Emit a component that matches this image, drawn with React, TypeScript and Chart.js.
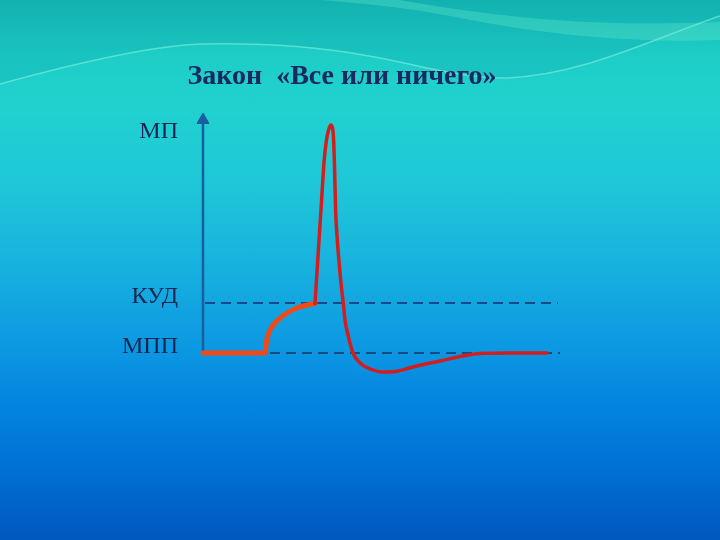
import React, { useEffect, useRef } from "react";
import { Chart, registerables } from "chart.js";

Chart.register(...registerables);

// ---- data (time in ms, membrane potential in mV) ----
const titleText = "Закон  «Все или ничего»";
const levelValues = [-70, -50, 16];
const levelLabels = ["МПП", "КУД", "МП"];

const axisTime = [0, 0];
const axisPotential = [-70, 23.2];

const stimTime = [0, 1.24, 1.274, 1.34, 1.5, 1.68, 1.88, 2.08, 2.24];
const stimPotential = [-70, -70, -64.8, -60.8, -56.8, -54, -52, -50.8, -50.2];

const spikeTime = [
  2.24, 2.304, 2.368, 2.424, 2.464, 2.506, 2.554, 2.59, 2.612, 2.632, 2.652,
  2.686, 2.726, 2.77, 2.806, 2.84, 2.9, 3.0, 3.14, 3.34, 3.6, 3.84, 4.2, 4.74,
  5.2, 5.54, 6.14, 6.88,
];
const spikePotential = [
  -50.2, -30, -10, 7.2, 14.4, 18.8, 21.2, 20, 15.2, 3.2, -12.8, -24.8, -34.8,
  -44, -50, -56.8, -62.8, -70, -74, -76.4, -77.6, -77.4, -75.6, -73.2, -71.2,
  -70.2, -70, -70,
];

const kudTime = [0.04, 7.1];
const kudPotential = [-50, -50];
const mppTime = [1.34, 7.14];
const mppPotential = [-70, -70];

const toXY = (xs: number[], ys: number[]) => xs.map((x, i) => ({ x, y: ys[i] }));

export default function App() {
  const ref = useRef<HTMLCanvasElement | null>(null);

  useEffect(() => {
    if (!ref.current) return;
    const chart = new Chart(ref.current, {
      type: "line",
      data: {
        datasets: [
          {
            label: "spike",
            data: toXY(spikeTime, spikePotential),
            borderColor: "#d21e1e",
            borderWidth: 3.5,
            pointRadius: 0,
            cubicInterpolationMode: "monotone",
            borderCapStyle: "round",
            borderJoinStyle: "round",
            fill: false,
            clip: false,
          },
          {
            label: "stimulus",
            data: toXY(stimTime, stimPotential),
            borderColor: "#f04a18",
            borderWidth: 5,
            pointRadius: 0,
            cubicInterpolationMode: "monotone",
            borderCapStyle: "round",
            borderJoinStyle: "round",
            fill: false,
            clip: false,
          },
          {
            label: "axis",
            data: toXY(axisTime, axisPotential),
            borderColor: "#1a5e9e",
            borderWidth: 2.5,
            pointRadius: [0, 7],
            pointStyle: "triangle",
            pointBackgroundColor: "#1a5e9e",
            pointBorderColor: "#1a5e9e",
            pointBorderWidth: 1,
            fill: false,
            clip: false,
          },
          {
            label: "КУД",
            data: toXY(kudTime, kudPotential),
            borderColor: "#1c4883",
            borderWidth: 2,
            borderDash: [10, 6],
            pointRadius: 0,
            fill: false,
            clip: false,
          },
          {
            label: "МПП",
            data: toXY(mppTime, mppPotential),
            borderColor: "#1c4883",
            borderWidth: 2,
            borderDash: [10, 6],
            pointRadius: 0,
            fill: false,
            clip: false,
          },
        ],
      },
      options: {
        animation: false,
        responsive: false,
        maintainAspectRatio: false,
        devicePixelRatio: 1,
        events: [],
        layout: { padding: { left: 81, right: 117, top: 0, bottom: 137 } },
        plugins: {
          legend: { display: false },
          tooltip: { enabled: false },
          title: {
            display: true,
            text: titleText,
            color: "#1c2860",
            font: {
              family: "'Liberation Serif', 'Times New Roman', serif",
              size: 28,
              weight: "bold",
              lineHeight: 1.2,
            },
            padding: { top: 60.2, bottom: 9.2 },
          },
        },
        scales: {
          x: {
            type: "linear",
            min: 0,
            max: 8,
            display: false,
          },
          y: {
            type: "linear",
            min: -90,
            max: 30,
            grid: { display: false, drawTicks: false },
            border: { display: false },
            afterFit: (scale: any) => {
              scale.width = 122;
            },
            afterBuildTicks: (scale: any) => {
              scale.ticks = levelValues.map((v) => ({ value: v }));
            },
            ticks: {
              padding: 25,
              labelOffset: -6,
              color: "#1a2550",
              font: {
                family: "'Liberation Serif', 'Times New Roman', serif",
                size: 24,
              },
              callback: (value: any) => {
                const i = levelValues.indexOf(Number(value));
                return i >= 0 ? levelLabels[i] : "";
              },
            },
          },
        },
      },
    });
    return () => chart.destroy();
  }, []);

  return (
    <div
      style={{
        position: "fixed",
        left: 0,
        top: 0,
        width: 720,
        height: 540,
        overflow: "hidden",
        background:
          "linear-gradient(180deg, #14b8b4 0%, #1dcdc6 10%, #20d2cf 20%, #1ec6d8 35%, #17b0df 50%, #0b97e2 65%, #0384e0 75%, #0070d4 87%, #0058be 100%)",
      }}
    >
      <svg
        width={720}
        height={540}
        style={{ position: "absolute", left: 0, top: 0 }}
      >
        <path
          d="M0,0 L720,0 L720,16 C650,40 580,76 505,78 C450,78 400,58 330,50 C300,46 250,43 200,44 C150,46 80,62 0,84 Z"
          fill="rgba(10,150,160,0.18)"
        />
        <path
          d="M320,0 L400,0 C480,14 580,28 720,22 L720,40 C610,44 520,30 450,16 C410,8 360,3 320,0 Z"
          fill="rgba(110,240,205,0.3)"
        />
        <path
          d="M0,84 C80,62 150,46 200,44 C250,43 300,46 330,50 C400,58 450,78 505,78 C580,76 650,40 720,16"
          fill="none"
          stroke="rgba(140,245,225,0.55)"
          strokeWidth={1.5}
        />
      </svg>
      <canvas
        ref={ref}
        width={720}
        height={540}
        style={{ position: "absolute", left: 0, top: 0 }}
      />
    </div>
  );
}
